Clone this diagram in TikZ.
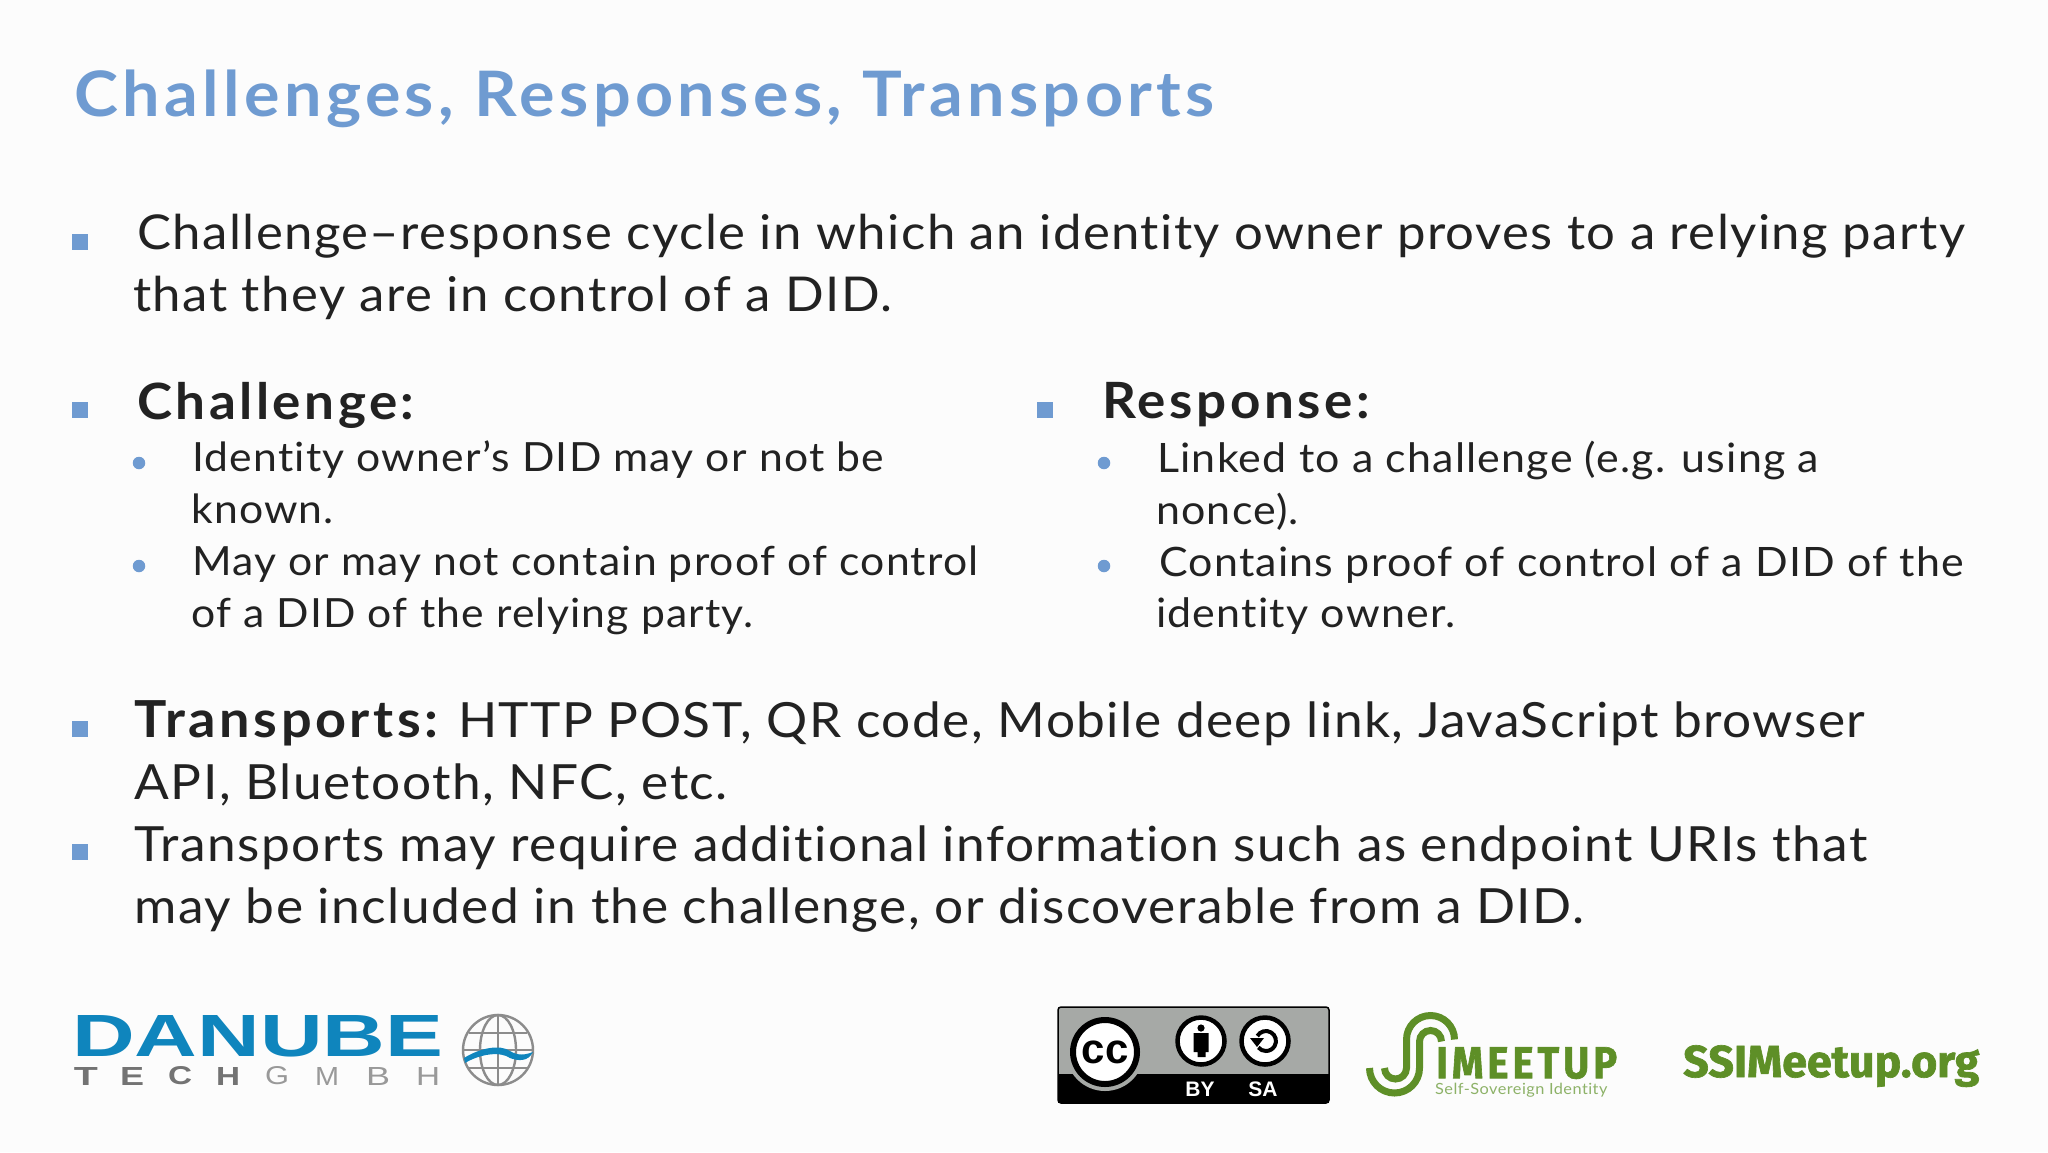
\documentclass[tikz,border=0pt]{standalone}
\usepackage{fontspec}
\usepackage{graphicx}
\setmainfont{Lato}[FakeStretch=1.06,LetterSpace=3,Ligatures=NoCommon]
\newfontfamily\headfont{Lato}[FakeStretch=1.06,LetterSpace=7,Ligatures=NoCommon]
\newfontfamily\logofont{Liberation Sans}
\newfontfamily\firafont{Fira Sans}[BoldFeatures={FakeBold=1.5}]
\newfontfamily\ssifont{Fira Sans}[LetterSpace=10,BoldFeatures={FakeBold=1.5}]
\definecolor{slideblue}{HTML}{6F9BD1}
\definecolor{slidetext}{HTML}{222222}
\definecolor{danubeblue}{HTML}{0F85BD}
\definecolor{ssigreen}{HTML}{5E8F27}
\definecolor{ssilight}{HTML}{8DB268}
\definecolor{badgegray}{HTML}{A6A9A6}
\tikzset{
  bodytext/.style={anchor=north west, inner sep=0pt, align=left, text=slidetext, font=\fontsize{48}{62.3}\selectfont},
  headtext/.style={anchor=north west, inner sep=0pt, text=slidetext, font=\headfont\bfseries\fontsize{50}{62.3}\selectfont},
  subtext/.style={anchor=north west, inner sep=0pt, align=left, text=slidetext, font=\fontsize{40.25}{51.7}\selectfont},
  squarebullet/.style={fill=slideblue, draw=none, minimum size=15.5pt, inner sep=0pt},
  roundbullet/.style={circle, fill=slideblue, draw=none, minimum size=12.5pt, inner sep=0pt},
  logotext/.style={inner sep=0pt, font=\logofont\bfseries}
}
\begin{document}
\begin{tikzpicture}[x=1pt, y=-1pt]
  \useasboundingbox (0,0) rectangle (2048,1152);
  \fill[white!99!black] (0,0) rectangle (2048,1152);
  % title
  \node[anchor=base west, inner sep=0pt, text=slideblue, font=\headfont\bfseries\fontsize{62.7}{70}\selectfont] (title) at (74,116) {Challenges, Responses, Transports};
  % bullets
  \foreach \name/\x/\y in {bulcycle/80/242, bulchal/80/410, bulresp/1045/410, bultrans/80/729, bulmore/80/852}
    \node[squarebullet] (\name) at (\x,\y) {};
  \foreach \name/\x/\y in {subone/139/463, subtwo/139/566, subthree/1104/463, subfour/1104/566}
    \node[roundbullet] (\name) at (\x,\y) {};
  % text
  \node[bodytext] (cycle) at (133,214) {\hspace*{4pt}Challenge–response cycle in which an identity owner proves to a relying party\\that they are in control of a DID.};
  \node[headtext] (chal) at (137,382) {Challenge:};
  \node[headtext] (resp) at (1102,382) {Response:};
  \node[subtext] (chalsub) at (191,441) {\hspace*{1pt}Identity owner’s DID may or not be\\known.\\\hspace*{1pt}May or may not contain proof of control\\of a DID of the relying party.};
  \node[subtext, font=\fontsize{40.5}{51.7}\selectfont] (respsub) at (1156,441) {\hspace*{1pt}Linked to a challenge (e.g. using a\\nonce).\\\hspace*{3pt}Contains proof of control of a DID of the\\identity owner.};
  \node[bodytext, font=\fontsize{48.5}{62.3}\selectfont] (trans) at (134.5,700) {{\headfont\bfseries\fontsize{51}{62.3}\selectfont Transports:} HTTP POST, QR code, Mobile deep link, JavaScript browser\\API, Bluetooth, NFC, etc.\\Transports may require additional information such as endpoint URIs that\\may be included in the challenge, or discoverable from a DID.};
  % danube logo
  \node[logotext, text=danubeblue, anchor=north west] (danube) at (72,1015) {\resizebox{371pt}{41pt}{DANUBE}};
  \foreach \letter/\x in {T/86, E/132, C/180, H/228}
    \node[inner sep=0pt, text=black!55!white, font=\logofont\bfseries] at (\x,1076) {\resizebox{24pt}{18pt}{\letter}};
  \foreach \letter/\x in {G/277, M/327, B/378, H/428}
    \node[inner sep=0pt, text=black!40!white, font=\logofont] at (\x,1076) {\resizebox{24pt}{18pt}{\letter}};
  \coordinate (globe) at (498,1050);
  \begin{scope}[draw=black!45!white, line width=2.4pt]
    \draw (globe) circle (35);
    \draw (globe) ellipse (18 and 35);
    \draw (498,1015) -- (498,1085);
    \draw (469,1033) -- (527,1033);
    \draw (463,1050) -- (533,1050);
    \draw (467,1068) -- (529,1068);
  \end{scope}
  \fill[danubeblue] (464,1058) .. controls (480,1048) and (500,1044) .. (510,1051) .. controls (518,1056) and (525,1055) .. (533,1052) .. controls (528,1062) and (518,1061) .. (510,1058) .. controls (500,1051) and (480,1054) .. (465,1063) -- cycle;
  % cc badge
  \fill[badgegray, draw=black, line width=1.5pt, rounded corners=3pt] (1058,1007) rectangle (1329,1103);
  \fill[black] (1058,1074) rectangle (1329,1103);
  \fill[badgegray] (1105,1052) circle (39);
  \node[circle, draw=black, fill=white, line width=6pt, minimum size=64pt, inner sep=0pt, font=\logofont\bfseries\fontsize{42}{42}\selectfont] (ccmark) at (1105,1052) {cc};
  \node[circle, draw=black, fill=white, line width=4.5pt, minimum size=47pt, inner sep=0pt] (bymark) at (1201,1041) {};
  \fill[black] (1201,1028) circle (3.6);
  \fill[black] (1193.5,1033) rectangle (1208.5,1052) (1197.5,1052) rectangle (1205.5,1057);
  \node[circle, draw=black, fill=white, line width=4.5pt, minimum size=47pt, inner sep=0pt] (samark) at (1265,1041) {};
  \draw[black, line width=4pt] (1257.3,1036) arc[start angle=-150, end angle=140, radius=10];
  \fill[black] (1250,1038) -- (1264,1038) -- (1257,1047) -- cycle;
  \node[logotext, text=white, font=\logofont\bfseries\fontsize{21}{21}\selectfont] (bytext) at (1200,1089) {BY};
  \node[logotext, text=white, font=\logofont\bfseries\fontsize{21}{21}\selectfont] (satext) at (1263,1089) {SA};
  % ssi logo
  \begin{scope}[draw=ssigreen, line width=7pt]
    \draw (1369.5,1068) arc[start angle=180, end angle=0, radius=25] -- (1419.5,1041.5) arc[start angle=180, end angle=360, radius=11];
    \draw (1384.5,1068) arc[start angle=180, end angle=0, radius=11] -- (1406.5,1039.5) arc[start angle=180, end angle=360, radius=24];
  \end{scope}
  \node[text=ssigreen, inner sep=0pt, anchor=north west] (imeetup) at (1436,1047) {\resizebox{181pt}{31pt}{\ssifont\bfseries IMEETUP}};
  \node[inner sep=0pt, text=ssilight, anchor=base west, font=\fontsize{15.4}{17}\selectfont] (ssitag) at (1435,1094) {Self-Sovereign Identity};
  \node[inner sep=0pt, text=ssigreen, anchor=base west, font=\firafont\bfseries] (ssiorg) at (1683,1077) {\resizebox{296pt}{!}{SSIMeetup.org}};
\end{tikzpicture}
\end{document}
